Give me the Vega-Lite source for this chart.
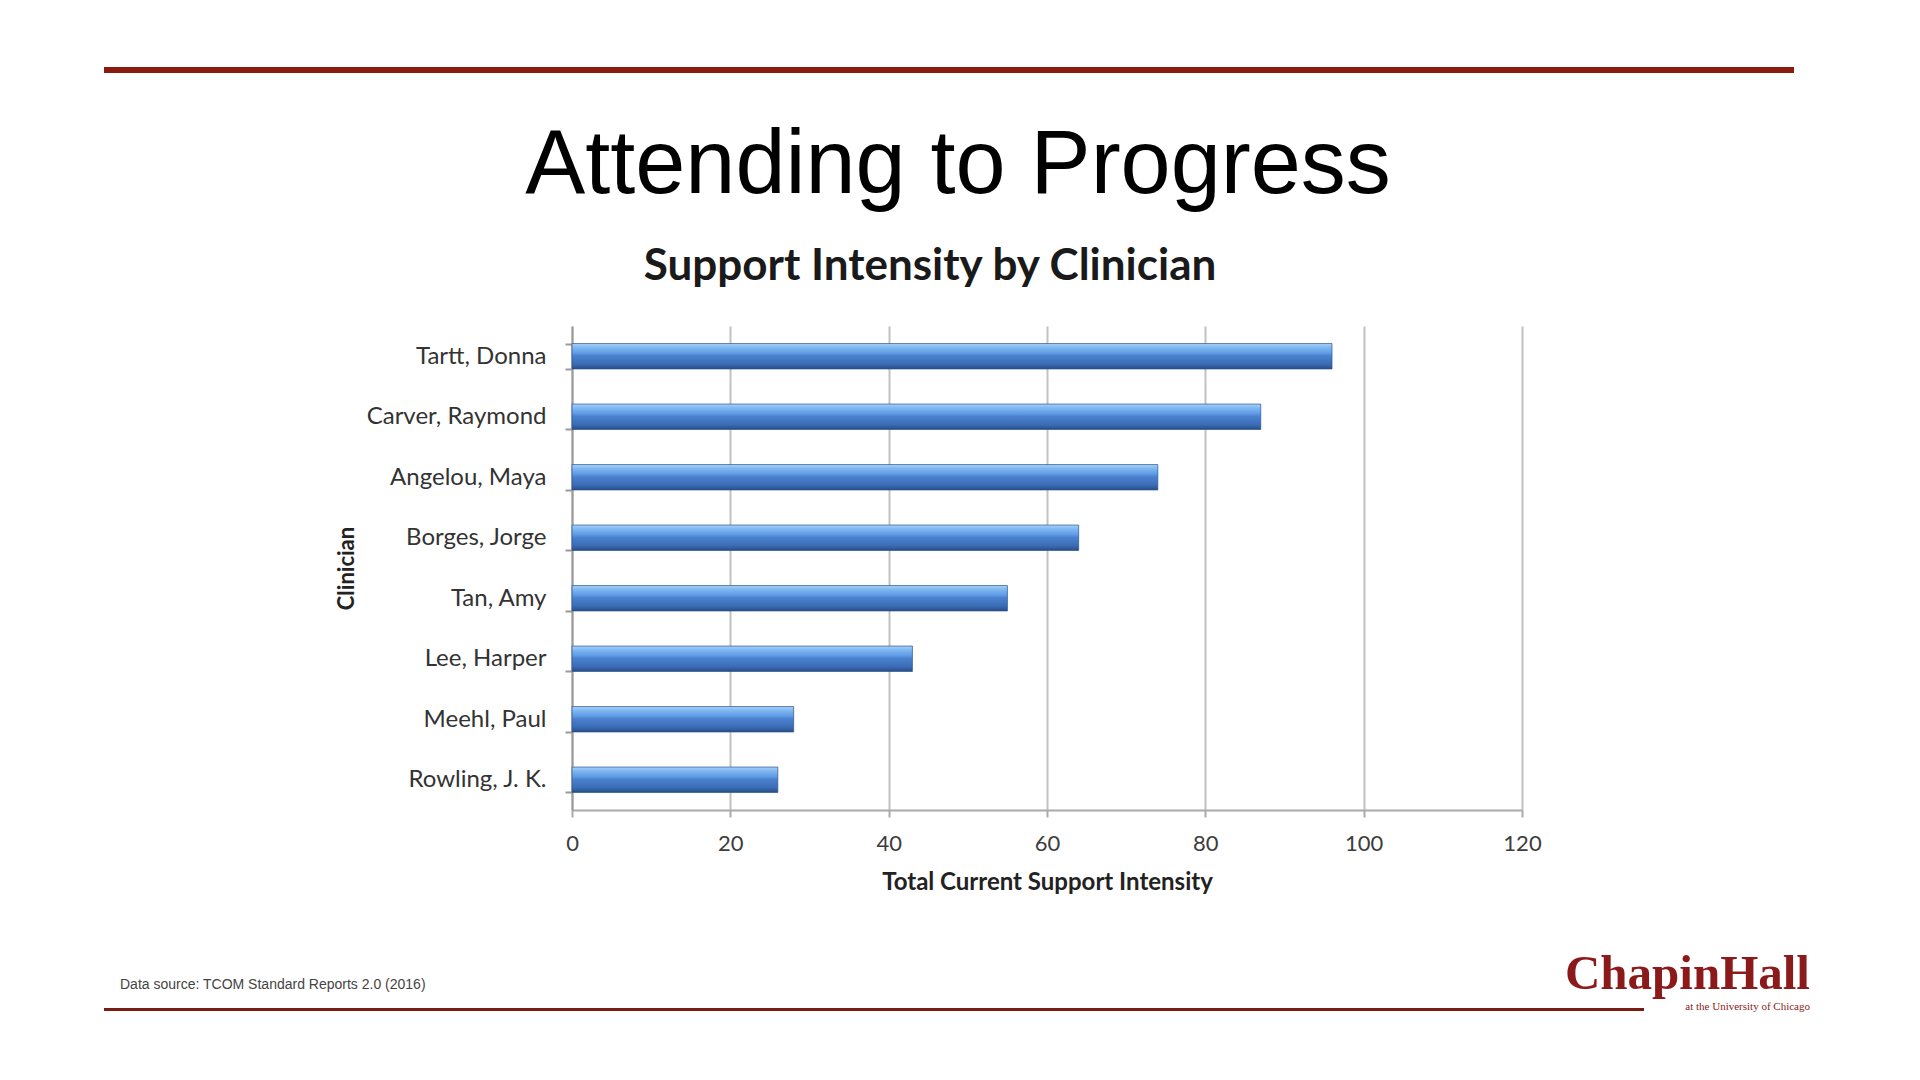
{
  "$schema": "https://vega.github.io/schema/vega-lite/v6.json",
  "background": "white",
  "padding": {"left": 104, "top": 67, "right": 110, "bottom": 68},
  "autosize": {"type": "pad"},
  "spacing": 34,
  "config": {"view": {"stroke": null}},
  "vconcat": [
    {
      "width": 1690,
      "height": 6,
      "view": {"fill": "#8B1A0E", "stroke": null},
      "title": {"text": "Attending to Progress", "orient": "bottom", "anchor": "middle", "frame": "group", "offset": 49, "dx": 9, "font": "Liberation Sans", "fontSize": 90, "fontWeight": "normal", "color": "#000000"},
      "data": {"values": []},
      "mark": "rect",
      "encoding": {}
    },
    {
      "spacing": 0,
      "hconcat": [
        {"width": 231, "height": 590, "data": {"values": []}, "mark": "rect", "encoding": {}},
        {
          "width": 950,
          "height": 484,
          "title": {"text": "Support Intensity by Clinician", "anchor": "middle", "frame": "group", "offset": 25, "dx": -117, "font": "Lato", "fontSize": 44, "fontWeight": "bold", "color": "#1a1a1a"},
          "data": {"values": [
            {"clinician": "Tartt, Donna", "intensity": 96},
            {"clinician": "Carver, Raymond", "intensity": 87},
            {"clinician": "Angelou, Maya", "intensity": 74},
            {"clinician": "Borges, Jorge", "intensity": 64},
            {"clinician": "Tan, Amy", "intensity": 55},
            {"clinician": "Lee, Harper", "intensity": 43},
            {"clinician": "Meehl, Paul", "intensity": 28},
            {"clinician": "Rowling, J. K.", "intensity": 26}
          ]},
          "mark": {
            "type": "bar",
            "fill": {"gradient": "linear", "x1": 0, "y1": 0, "x2": 0, "y2": 1, "stops": [
              {"offset": 0, "color": "#a9d1f8"},
              {"offset": 0.14, "color": "#82baf2"},
              {"offset": 0.38, "color": "#5f9ae4"},
              {"offset": 0.48, "color": "#4a82cf"},
              {"offset": 0.8, "color": "#3c6db6"},
              {"offset": 0.93, "color": "#2f5a99"},
              {"offset": 1, "color": "#264a80"}
            ]},
            "stroke": "#2b5494",
            "strokeWidth": 1,
            "strokeOpacity": 0.7
          },
          "encoding": {
            "y": {
              "field": "clinician",
              "type": "nominal",
              "sort": null,
              "scale": {"paddingInner": 0.58, "paddingOuter": 0.29},
              "axis": {"title": "Clinician", "titleFont": "Lato", "titleFontSize": 22, "titleFontWeight": "bold", "titleColor": "#222222", "titlePadding": 14, "labelFont": "Lato", "labelFontSize": 24, "labelColor": "#333333", "labelPadding": 19, "labelLimit": 400, "tickBand": "extent", "tickSize": 7, "tickWidth": 2, "tickColor": "#9a9a9a", "domainColor": "#9a9a9a", "domainWidth": 2}
            },
            "x": {
              "field": "intensity",
              "type": "quantitative",
              "scale": {"domain": [0, 120]},
              "axis": {"values": [0, 20, 40, 60, 80, 100, 120], "grid": true, "gridColor": "#c2c2c2", "gridWidth": 2, "domainColor": "#aaaaaa", "domainWidth": 2, "tickColor": "#aaaaaa", "tickWidth": 2, "tickSize": 7, "labelFont": "Lato", "labelFontSize": 22, "labelColor": "#3d3d3d", "labelPadding": 16, "labelFlush": false, "title": "Total Current Support Intensity", "titleFont": "Lato", "titleFontSize": 24, "titleFontWeight": "bold", "titleColor": "#222222", "titlePadding": 16}
            }
          }
        }
      ]
    },
    {
      "spacing": 0,
      "bounds": "flush",
      "hconcat": [
        {
          "width": 1540,
          "height": 3,
          "view": {"fill": "#7B1C14", "stroke": null},
          "title": {"text": "Data source: TCOM Standard Reports 2.0 (2016)", "orient": "top", "anchor": "start", "frame": "group", "offset": 16, "dx": 16, "font": "Liberation Sans", "fontSize": 14, "fontWeight": "normal", "color": "#444444"},
          "data": {"values": []},
          "mark": "rect",
          "encoding": {}
        },
        {
          "width": 166,
          "height": 3,
          "title": {"text": "ChapinHall", "subtitle": "at the University of Chicago", "orient": "top", "anchor": "end", "frame": "group", "offset": -4, "font": "Liberation Serif", "fontSize": 49, "fontWeight": "bold", "color": "#8B1A1A", "subtitleFont": "Liberation Serif", "subtitleFontSize": 11, "subtitleColor": "#8B1A1A", "subtitlePadding": 2},
          "data": {"values": []},
          "mark": "rect",
          "encoding": {}
        }
      ]
    }
  ]
}
